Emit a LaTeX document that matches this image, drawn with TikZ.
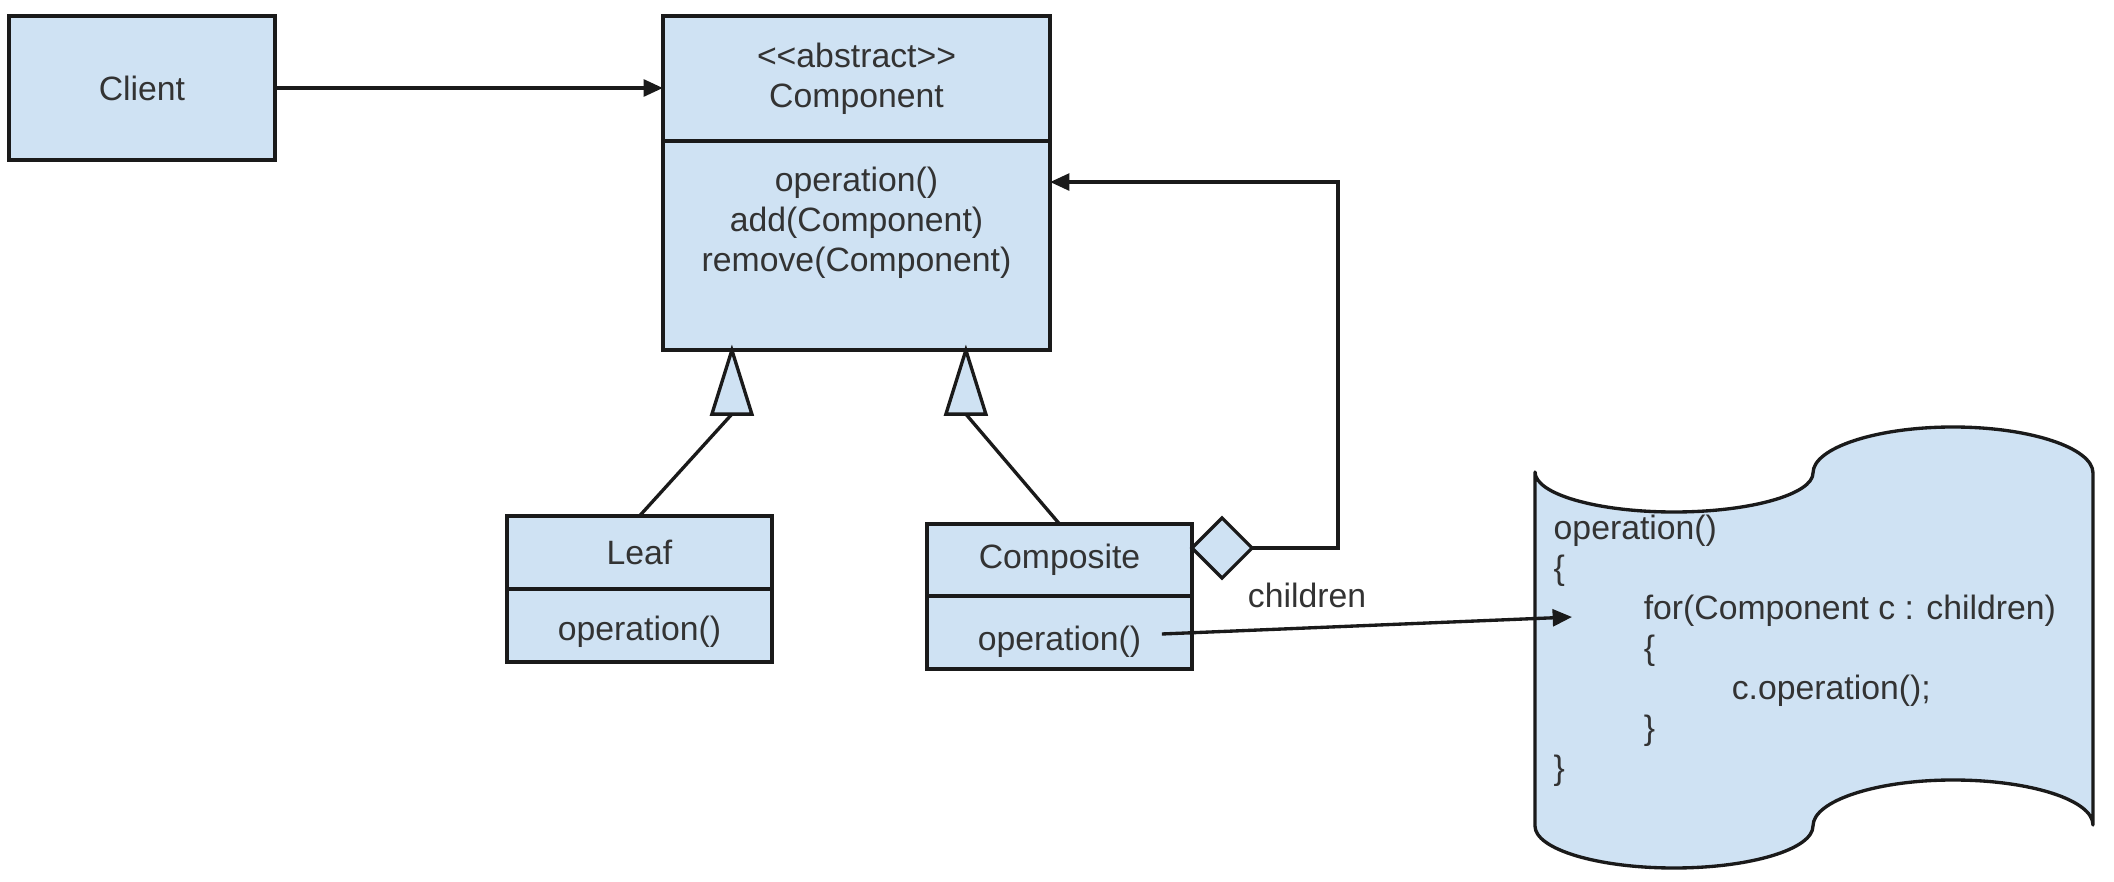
\documentclass[tikz,border=0pt]{standalone}
\usepackage{fontspec}
\setmainfont{Liberation Sans}
\usetikzlibrary{arrows.meta,calc,shapes.geometric}
\definecolor{boxblue}{HTML}{CFE2F3}
\definecolor{linecol}{HTML}{1A1A1A}
\definecolor{txtcol}{HTML}{333333}
\begin{document}
\begin{tikzpicture}[x=0.01cm,y=-0.01cm,
  font=\fontsize{9.6pt}{11.4pt}\selectfont,
  every node/.style={text=txtcol},
  box/.style={draw=linecol, fill=boxblue, line width=0.95pt, rectangle, inner sep=0pt, outer sep=0pt, align=center},
  txt/.style={inner sep=0pt, align=center},
  conn/.style={draw=linecol, line width=0.95pt},
  arr/.style={conn, -{Triangle[length=5.5pt,width=4.8pt]}},
]
\useasboundingbox (0,0) rectangle (2114,882);
\fill[white] (0,0) rectangle (2114,882);

% Client
\node[box, minimum width=2.66cm, minimum height=1.44cm] (client) at (142,88) {Client};

% Component
\node[box, minimum width=3.87cm, minimum height=1.25cm] (comphead) at (856.5,78.5) {<\kern0pt<abstract>\kern0pt>\\Component};
\node[box, minimum width=3.87cm, minimum height=2.09cm, anchor=north] (compbody) at (comphead.south) {};
\node[txt] (compops) at (856.5,223) {operation()\\add(Component)\\remove(Component)};

% Leaf
\node[box, minimum width=2.65cm, minimum height=0.73cm] (leafhead) at (639.5,552.5) {Leaf};
\node[box, minimum width=2.65cm, minimum height=0.73cm, anchor=north] (leafbody) at (leafhead.south) {};
\node[txt] (leafop) at (639.5,632) {operation()};

% Composite
\node[box, minimum width=2.65cm, minimum height=0.72cm] (cmphead) at (1059.5,560) {Composite};
\node[box, minimum width=2.65cm, minimum height=0.73cm, anchor=north] (cmpbody) at (cmphead.south) {};
\node[txt] (cmpop) at (1059.5,642) {operation()};

% Client -> Component
\draw[arr] (client.east) -- (client.east -| comphead.west);

% Generalisations
\coordinate (g1) at ($(compbody.south west)+(69,0)$);
\coordinate (g2) at ($(compbody.south west)+(303,0)$);
\draw[conn] (leafhead.north) -- ($(g1)+(0,64)$);
\draw[conn] (cmphead.north) -- ($(g2)+(0,64)$);
\draw[conn, fill=boxblue] (g1) -- ++(-20,64) -- ++(40,0) -- cycle;
\draw[conn, fill=boxblue] (g2) -- ++(-20,64) -- ++(40,0) -- cycle;

% Aggregation
\node[diamond, draw=linecol, fill=boxblue, line width=0.95pt, minimum width=0.6cm, minimum height=0.6cm, inner sep=0pt, outer sep=0pt, anchor=west] (agg) at (cmphead.east |- {(0,548)}) {};
\coordinate (aggturn) at (1338,548);
\coordinate (aggin) at ($(compbody.north east)+(0,41)$);
\draw[arr] (agg.east) -- (aggturn) |- (aggin);
\node[txt] (childlbl) at (1307,595) {children};

% Tape with code
\draw[conn, fill=boxblue, line join=round] (1535,472)
  .. controls (1535,494) and (1597,512) .. (1674,512)
  .. controls (1751,512) and (1813,494) .. (1813,473)
  .. controls (1813,448) and (1876,427) .. (1953,427)
  .. controls (2030,427) and (2093,448) .. (2093,473)
  -- (2093,825)
  .. controls (2093,800) and (2030,780) .. (1953,780)
  .. controls (1876,780) and (1813,801) .. (1813,826)
  .. controls (1813,849) and (1751,868) .. (1674,868)
  .. controls (1597,868) and (1535,849) .. (1535,826)
  -- cycle;
\node[txt, align=left, anchor=north west] (code) at (1553,514) {operation()\\\{\\\hspace*{0.9cm}for(Component c : children)\\\hspace*{0.9cm}\{\\\hspace*{1.78cm}c.operation();\\\hspace*{0.9cm}\}\\\}};

\coordinate (callend) at (1572,617);
\draw[arr] ([xshift=0.2cm,yshift=0.08cm]cmpop.east) -- (callend);
\end{tikzpicture}
\end{document}
